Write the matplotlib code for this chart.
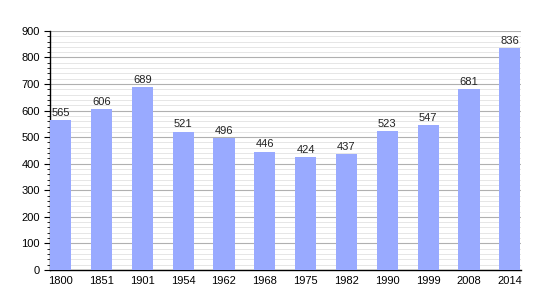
import matplotlib
matplotlib.use("Agg")
import matplotlib.pyplot as plt
from matplotlib.ticker import MultipleLocator

plt.rcParams["font.family"] = ["Liberation Sans", "DejaVu Sans"]

years = ["1800", "1851", "1901", "1954", "1962", "1968", "1975", "1982", "1990", "1999", "2008", "2014"]
population = [565, 606, 689, 521, 496, 446, 424, 437, 523, 547, 681, 836]

fig = plt.figure(figsize=(5.5, 3), dpi=100)
ax = fig.add_axes([0.091, 0.1, 0.856, 0.797])

x = range(len(years))
ax.bar(x, population, width=0.52, color="#99aaff", zorder=3)
for i, v in zip(x, population):
    ax.text(i, v + 8, str(v), ha="center", va="bottom", fontsize=8, color="#222222", zorder=4)

ax.set_xlim(-0.26, len(years) - 1 + 0.27)
ax.set_ylim(0, 900)
ax.set_xticks(list(x))
ax.set_xticklabels(years, fontsize=8)
ax.tick_params(axis="x", length=0, pad=4)
ax.yaxis.set_major_locator(MultipleLocator(100))
ax.yaxis.set_minor_locator(MultipleLocator(20))
ax.tick_params(axis="y", which="major", length=4, labelsize=8, direction="out")
ax.tick_params(axis="y", which="minor", length=2, direction="out")

ax.grid(axis="y", which="major", color="#b0b0b0", linewidth=0.8, zorder=1)
ax.grid(axis="y", which="minor", color="#e2e2e2", linewidth=0.6, zorder=1)

for s in ["top", "right"]:
    ax.spines[s].set_visible(False)
ax.spines["left"].set_linewidth(1)
ax.spines["bottom"].set_linewidth(1)

fig.savefig("out.png", dpi=100)
